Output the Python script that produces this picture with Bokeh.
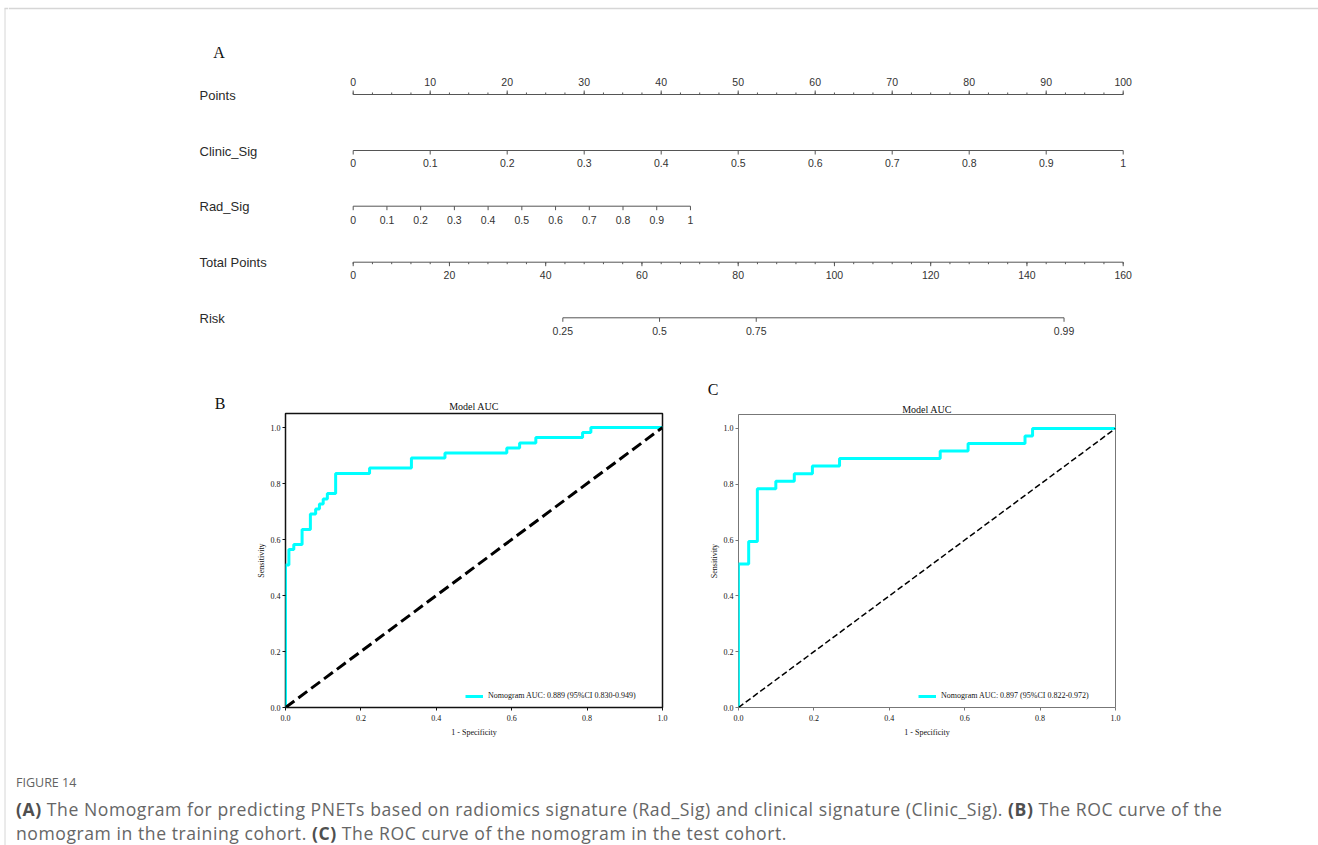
import math

from bokeh.core.properties import value
from bokeh.embed import file_html
from bokeh.layouts import column, row
from bokeh.models import Div, FixedTicker, NumeralTickFormatter, Range1d
from bokeh.plotting import figure
from bokeh.resources import INLINE

# ---------------------------------------------------------------- nomogram
points_ticks = [0, 10, 20, 30, 40, 50, 60, 70, 80, 90, 100]
points_labels = ["0", "10", "20", "30", "40", "50", "60", "70", "80", "90", "100"]
points_minor_step = 2.5

clinic_ticks = [0, 0.1, 0.2, 0.3, 0.4, 0.5, 0.6, 0.7, 0.8, 0.9, 1.0]
clinic_labels = ["0", "0.1", "0.2", "0.3", "0.4", "0.5", "0.6", "0.7", "0.8", "0.9", "1"]

rad_ticks = [0, 0.1, 0.2, 0.3, 0.4, 0.5, 0.6, 0.7, 0.8, 0.9, 1.0]
rad_labels = ["0", "0.1", "0.2", "0.3", "0.4", "0.5", "0.6", "0.7", "0.8", "0.9", "1"]

total_ticks = [0, 20, 40, 60, 80, 100, 120, 140, 160]
total_labels = ["0", "20", "40", "60", "80", "100", "120", "140", "160"]
total_minor_step = 4

risk_ticks = [0.25, 0.5, 0.75, 0.99]
risk_labels = ["0.25", "0.5", "0.75", "0.99"]

row_names = ["Points", "Clinic_Sig", "Rad_Sig", "Total Points", "Risk"]

# points given by each predictor over its full 0-1 range
CLINIC_MAX_POINTS = 100.0
RAD_MAX_POINTS = 43.8
TOTAL_POINTS_MAX = 160.0
# logistic model on total points: logit(risk) = intercept + slope * total
LP_INTERCEPT = -3.48
LP_SLOPE = 0.05467

# ---------------------------------------------------------------- ROC data
train_fpr = [0.0, 0.0, 0.009, 0.022, 0.044, 0.066, 0.080, 0.090, 0.100, 0.111,
             0.133, 0.223, 0.334, 0.423, 0.587, 0.621, 0.664, 0.788, 0.810, 1.0]
train_tpr = [0.0, 0.509, 0.564, 0.582, 0.636, 0.691, 0.709, 0.727, 0.745, 0.764,
             0.836, 0.855, 0.891, 0.909, 0.927, 0.945, 0.964, 0.982, 1.0, 1.0]
train_legend = "Nomogram AUC: 0.889 (95%CI 0.830-0.949)"

test_fpr = [0.0, 0.0, 0.027, 0.050, 0.099, 0.148, 0.196, 0.268, 0.535, 0.609,
            0.760, 0.780, 1.0]
test_tpr = [0.0, 0.514, 0.595, 0.784, 0.811, 0.838, 0.865, 0.892, 0.919, 0.946,
            0.973, 1.0, 1.0]
test_legend = "Nomogram AUC: 0.897 (95%CI 0.822-0.972)"

chance_x = [0.0, 1.0]
chance_y = [0.0, 1.0]

# ---------------------------------------------------------------- page geometry
PAGE_W, PAGE_H = 1318, 845
EDGE_W = 8                      # strip carrying the page's left rule
TOP_H = 380                     # nomogram band
MID_H = 360                     # ROC band
CAP_H = PAGE_H - TOP_H - MID_H
C_STRIP_H = 20                  # band above the "C" plot holding its letter
B_SPLIT = 245                   # page x where the ROC "B" figure begins
C_SPLIT = 690                   # page x where the ROC "C" figure begins
NOMO_X0, NOMO_X1 = 352.7, 1122.7   # where 0 and 100 points sit on the page
RULE_COLOR = "#d6d6d6"

SANS = "Liberation Sans"
SERIF = "Liberation Serif"
AXIS_GREY = "#555555"
TEXT_DARK = "#2a2a2a"


def risk_to_total(r):
    return (math.log(r / (1.0 - r)) - LP_INTERCEPT) / LP_SLOPE


def total_to_points(t):
    return t * 100.0 / TOTAL_POINTS_MAX


def blank(width, height, x0, x1, y_top, y_bottom):
    """Axis-less figure whose data space is page pixels."""
    f = figure(width=width, height=height, x_range=Range1d(x0, x1),
               y_range=Range1d(y_bottom, y_top), min_border=0, frame_align=False,
               x_axis_location=None, y_axis_location=None,
               output_backend="svg", toolbar_location=None)
    f.grid.visible = False
    f.outline_line_color = None
    return f


def panel_letter(f, x, y, letter, **kw):
    f.text(x=[x], y=[y], text=[letter], text_font=value(SERIF),
           text_font_size="16px", text_color="#111111",
           text_align="center", text_baseline="middle", **kw)


# ------------------------------------------------------------ left page rule
edge = blank(EDGE_W, PAGE_H, 0, EDGE_W, 0, PAGE_H)
edge.segment(x0=[4.5], y0=[8], x1=[4.5], y1=[PAGE_H], line_color=RULE_COLOR, line_width=1)
edge.segment(x0=[4], y0=[8], x1=[EDGE_W], y1=[8], line_color=RULE_COLOR, line_width=1.5)

# ------------------------------------------------------------ nomogram panel
px_per_point = (NOMO_X1 - NOMO_X0) / 100.0
nomo = figure(width=PAGE_W - EDGE_W, height=TOP_H,
              x_range=Range1d((EDGE_W - NOMO_X0) / px_per_point, (PAGE_W - NOMO_X0) / px_per_point),
              y_range=Range1d(TOP_H, 0), min_border=0, frame_align=False,
              x_axis_location=None, y_axis_location=None,
              output_backend="svg", toolbar_location=None)
nomo.extra_x_ranges = {"page": Range1d(EDGE_W, PAGE_W)}
nomo.grid.visible = False
nomo.outline_line_color = None

# top page rule
nomo.segment(x0=[EDGE_W], y0=[8], x1=[PAGE_W], y1=[8], x_range_name="page",
             line_color=RULE_COLOR, line_width=1.5)

# vertical placement of each scale (line y, label y, tick direction)
rows = {
    "Points": (94.0, 81.5, -1),
    "Clinic_Sig": (150.0, 162.7, 1),
    "Rad_Sig": (205.7, 219.0, 1),
    "Total Points": (261.7, 274.3, 1),
    "Risk": (317.3, 330.0, 1),
}
MAJOR_LEN, MINOR_LEN = 4.0, 2.0


def draw_scale(name, pos, labels, minor=None):
    ly, ty, d = rows[name]
    nomo.segment(x0=[min(pos)], y0=[ly], x1=[max(pos)], y1=[ly],
                 line_color=AXIS_GREY, line_width=1)
    nomo.segment(x0=pos, y0=[ly] * len(pos), x1=pos, y1=[ly + d * MAJOR_LEN] * len(pos),
                 line_color=AXIS_GREY, line_width=1)
    if minor:
        nomo.segment(x0=minor, y0=[ly] * len(minor), x1=minor,
                     y1=[ly + d * MINOR_LEN] * len(minor),
                     line_color=AXIS_GREY, line_width=1)
    nomo.text(x=pos, y=[ty] * len(pos), text=labels,
              text_font=value(SANS), text_font_size="10.5px", text_color="#333333",
              text_align="center", text_baseline="middle")


pts_minor = [i * points_minor_step for i in range(int(100 / points_minor_step) + 1)]
draw_scale("Points", points_ticks, points_labels, pts_minor)
draw_scale("Clinic_Sig", [v * CLINIC_MAX_POINTS for v in clinic_ticks], clinic_labels)
draw_scale("Rad_Sig", [v * RAD_MAX_POINTS for v in rad_ticks], rad_labels)
tot_minor = [total_to_points(i * total_minor_step)
             for i in range(int(TOTAL_POINTS_MAX / total_minor_step) + 1)]
draw_scale("Total Points", [total_to_points(t) for t in total_ticks], total_labels, tot_minor)
draw_scale("Risk", [total_to_points(risk_to_total(r)) for r in risk_ticks], risk_labels)

nomo.text(x=[199] * len(row_names), y=[rows[n][0] + 0.5 for n in row_names], text=row_names,
          x_range_name="page", text_font=value(SANS), text_font_size="13px",
          text_color=TEXT_DARK, text_align="left", text_baseline="middle")
panel_letter(nomo, 218.5, 52, "A", x_range_name="page")

# ------------------------------------------------------------ panel letters "B" and "C"
letter_b = blank(B_SPLIT - EDGE_W, MID_H, EDGE_W, B_SPLIT, TOP_H, TOP_H + MID_H)
panel_letter(letter_b, 219.5, 402.5, "B")

letter_c = blank(PAGE_W - C_SPLIT, C_STRIP_H, C_SPLIT, PAGE_W, TOP_H, TOP_H + C_STRIP_H)
panel_letter(letter_c, 712.5, 389, "C")


# ------------------------------------------------------------ ROC panels
def roc_panel(width, height, border_l, border_r, border_t, border_b, fpr, tpr, legend_text,
              frame_color, frame_width, dash, dash_width, title_standoff):
    p = figure(width=width, height=height, x_range=Range1d(0, 1), y_range=Range1d(0, 1.05),
               min_border_left=border_l, min_border_right=border_r,
               min_border_top=border_t, min_border_bottom=border_b, frame_align=False,
               title="Model AUC", output_backend="svg", toolbar_location=None)
    p.grid.visible = False
    p.outline_line_color = frame_color
    p.outline_line_width = frame_width

    p.title.align = "center"
    p.title.text_font = SERIF
    p.title.text_font_size = "10px"
    p.title.text_font_style = "normal"
    p.title.text_color = "#111111"
    p.title.standoff = title_standoff

    for ax in (p.xaxis[0], p.yaxis[0]):
        ax.ticker = FixedTicker(ticks=[0.0, 0.2, 0.4, 0.6, 0.8, 1.0])
        ax.formatter = NumeralTickFormatter(format="0.0")
        ax.axis_line_color = None
        ax.major_tick_in = 0
        ax.major_tick_out = 3
        ax.major_tick_line_color = frame_color
        ax.minor_tick_in = 0
        ax.minor_tick_out = 0
        ax.major_label_text_font = SERIF
        ax.major_label_text_font_size = "8px"
        ax.major_label_text_color = "#111111"
        ax.axis_label_text_font = SERIF
        ax.axis_label_text_font_size = "8px"
        ax.axis_label_text_font_style = "normal"
        ax.axis_label_text_color = "#111111"
    p.xaxis.axis_label = "1 - Specificity"
    p.yaxis.axis_label = "Sensitivity"
    p.xaxis.major_label_standoff = 4
    p.xaxis.axis_label_standoff = 4
    p.yaxis.major_label_standoff = 2
    p.yaxis.axis_label_standoff = 2

    p.step(x=fpr, y=tpr, mode="after", line_color="#00FFFF", line_width=3,
           legend_label=legend_text)
    p.line(x=chance_x, y=chance_y, line_color="black", line_width=dash_width, line_dash=dash)

    lg = p.legend[0]
    lg.location = (180, 7)
    lg.border_line_color = None
    lg.background_fill_alpha = 0
    lg.padding = 0
    lg.margin = 0
    lg.spacing = 0
    lg.glyph_width = 18
    lg.glyph_height = 8
    lg.label_height = 8
    lg.label_standoff = 5
    lg.label_text_font = SERIF
    lg.label_text_font_size = "8px"
    lg.label_text_color = "#111111"
    return p


# frame edges on the page: B 285..662 x 412.7..706.7, C 738..1115 x 414..707
roc_train = roc_panel(C_SPLIT - B_SPLIT, MID_H, 285 - B_SPLIT, 28, 33, 33,
                      train_fpr, train_tpr, train_legend, "#111111", 1.5, "11 5", 3, 3)
roc_test = roc_panel(PAGE_W - C_SPLIT, MID_H - C_STRIP_H, 48, 203, 14, 33,
                     test_fpr, test_tpr, test_legend, "#777777", 1, "6 3", 1.5, 0)

# ------------------------------------------------------------ caption
BOLD = 'style="color:#4f4f4f;"'
caption_html = (
    '<div style="font-family:\'Open Sans\', sans-serif; color:#666666; padding-left:8px; '
    'white-space:nowrap;">'
    '<div style="font-size:12.5px; line-height:16px; margin-top:35px; color:#636363;">FIGURE 14</div>'
    '<div style="font-size:17.6px; line-height:24px; margin-top:6px; letter-spacing:0.55px;">'
    f'<b {BOLD}>(A)</b> The Nomogram for predicting PNETs based on radiomics '
    f'signature (Rad_Sig) and clinical signature (Clinic_Sig). <b {BOLD}>(B)</b> '
    'The ROC curve of the</div>'
    '<div style="font-size:17.6px; line-height:24px; letter-spacing:0.55px;">'
    f'nomogram in the training cohort. <b {BOLD}>(C)</b> '
    'The ROC curve of the nomogram in the test cohort.</div></div>'
)
caption = Div(text=caption_html, width=PAGE_W - EDGE_W, height=CAP_H, margin=0)

page = row(edge,
           column(nomo,
                  row(letter_b, roc_train, column(letter_c, roc_test)),
                  caption))

open("out.html", "w").write(file_html(page, INLINE))
